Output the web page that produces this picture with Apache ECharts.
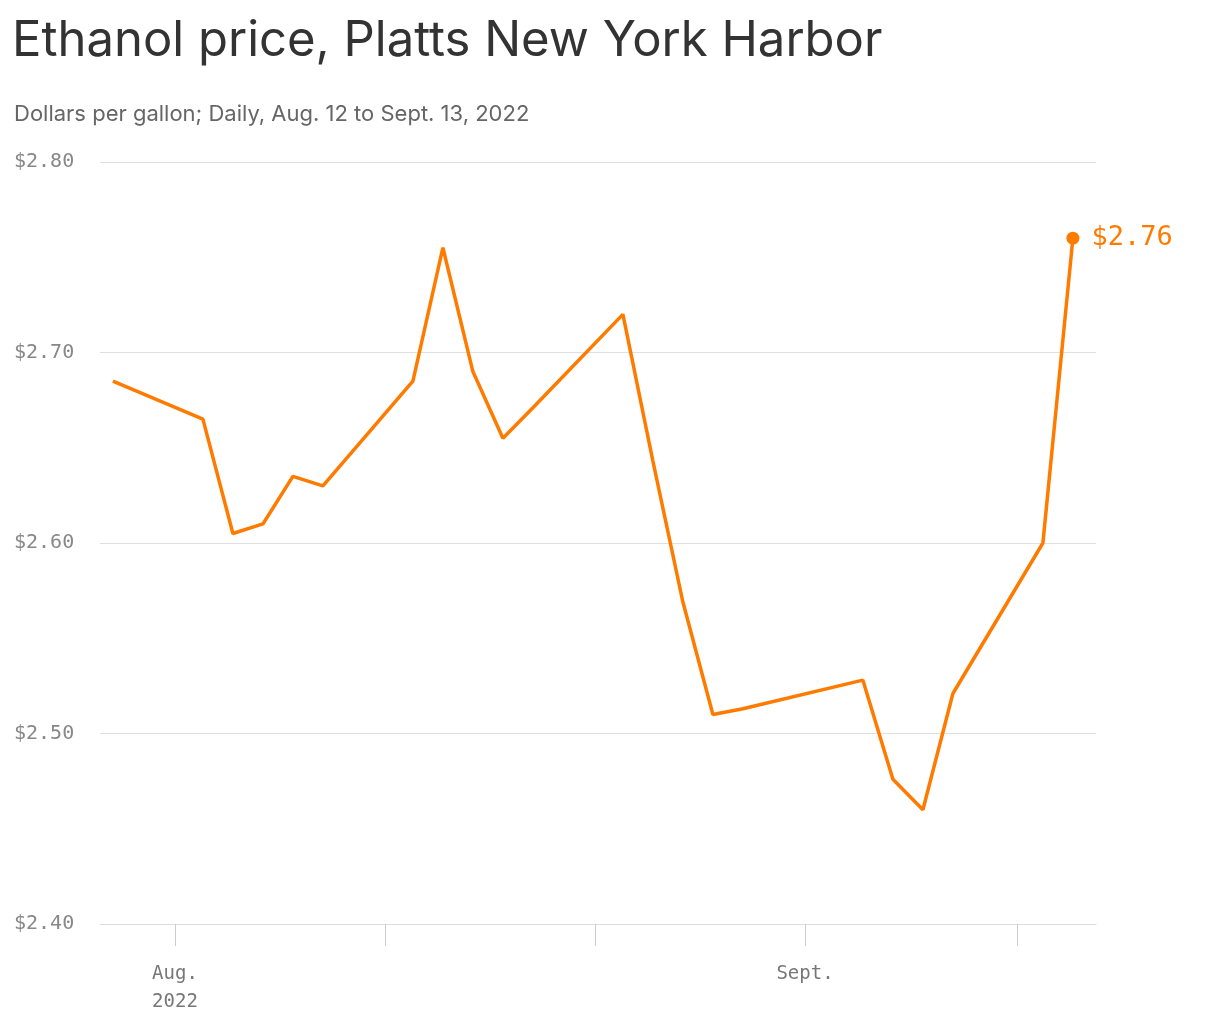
<!DOCTYPE html>
<html><head><meta charset="utf-8">
<script src="https://cdn.jsdelivr.net/npm/echarts@6/dist/echarts.min.js"></script>
<style>html,body{margin:0;padding:0;background:#fff}#c{width:1220px;height:1020px}</style>
</head><body><div id="c"></div>
<script>
// days since Aug. 12, 2022 (trading days)
const dayOffsets = [0,3,4,5,6,7,10,11,12,13,14,17,18,19,20,21,25,26,27,28,31,32];
const prices = [2.685,2.665,2.605,2.610,2.635,2.630,2.685,2.755,2.690,2.655,2.671,2.720,2.643,2.569,2.510,2.513,2.528,2.476,2.460,2.521,2.600,2.760];
const xTicks = [2.07,9.07,16.07,23.07,30.13];
const xTickLabels = {2.07:'Aug.\n2022', 23.07:'Sept.'};

const data = dayOffsets.map((d,i)=>[d,prices[i]]);
const mono = 'DejaVu Sans Mono';
const chart = echarts.init(document.getElementById('c'));
chart.setOption({
  animation:false,
  title:[{text:'Ethanol price, Platts New York Harbor',left:7,top:12,textStyle:{fontFamily:'Inter',fontWeight:'normal',fontSize:49,color:'#333'}},
         {text:'Dollars per gallon; Daily, Aug. 12 to Sept. 13, 2022',left:9,top:98,textStyle:{fontFamily:'Inter',fontWeight:'normal',fontSize:22,color:'#666'}}],
  grid:{left:100,right:124,top:162,bottom:96},
  xAxis:{type:'value',min:-0.43,max:32.77,splitLine:{show:false},
    axisLine:{show:true,lineStyle:{color:'#ddd'}},
    axisTick:{show:true,customValues:xTicks,length:22,lineStyle:{color:'#ccc'}},
    axisLabel:{customValues:[2.07,23.07],formatter:v=>xTickLabels[v]||'',fontFamily:mono,fontSize:19,color:'#777',margin:36,lineHeight:28}},
  yAxis:{type:'value',min:2.4,max:2.8,interval:0.1,
    axisLine:{show:false},axisTick:{show:false},
    splitLine:{lineStyle:{color:'#e0e0e0'}},
    axisLabel:{formatter:v=>'$'+v.toFixed(2),fontFamily:mono,fontSize:20,color:'#888',margin:86,align:'left'}},
  series:[{type:'line',data:data,symbol:'none',lineStyle:{color:'#ff7b00',width:3.5},
    markPoint:{symbol:'circle',symbolSize:13,itemStyle:{color:'#ff7b00'},
      data:[{coord:data[data.length-1],label:{show:true,position:'right',distance:12,formatter:'$2.76',fontFamily:mono,fontSize:27,color:'#ff7b00'}}]}}]
});
</script></body></html>
